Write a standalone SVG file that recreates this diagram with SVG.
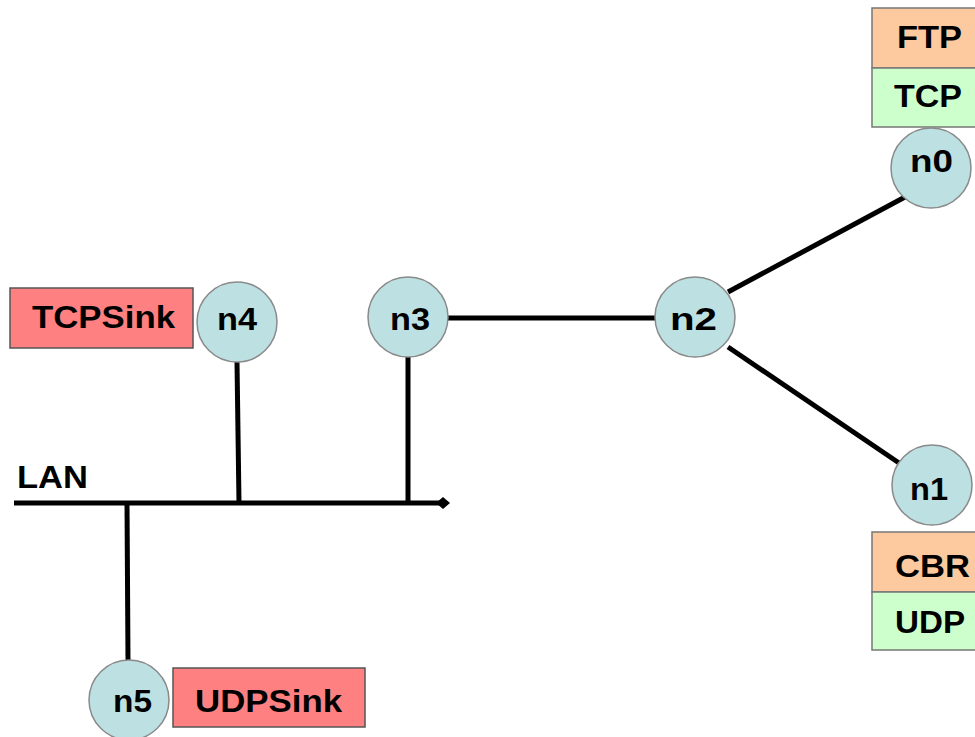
<svg xmlns="http://www.w3.org/2000/svg" width="975" height="737" viewBox="0 0 975 737">
<style>
.node{fill:#bde0e3;stroke:#8a8a8a;stroke-width:1.5}
.lbl{font-family:"Liberation Sans",Arial,sans-serif;font-weight:bold;font-size:31px;fill:#000}
.link{stroke:#000;stroke-width:5;fill:none}
.red{fill:#ff8080;stroke:#555;stroke-width:1.5}
.org{fill:#fdc99f;stroke:#777;stroke-width:1.5}
.grn{fill:#ccffcc;stroke:#777;stroke-width:1.5}
</style>
<rect width="975" height="737" fill="#fff"/>
<g id="connectors">
<line class="link" x1="448" y1="318" x2="655" y2="318"/>
<line class="link" x1="728" y1="292" x2="905" y2="197"/>
<line class="link" x1="728" y1="347" x2="902" y2="465"/>
<line class="link" x1="14" y1="503" x2="441" y2="503"/>
<polygon points="436,503 443,497 450,503 443,509" fill="#000"/>
<line class="link" x1="127" y1="503" x2="128" y2="660"/>
<line class="link" x1="237" y1="362" x2="239" y2="503"/>
<line class="link" x1="408" y1="357" x2="408" y2="503"/>
<text class="lbl" x="17" y="488" textLength="71" lengthAdjust="spacingAndGlyphs">LAN</text>
</g>
<g id="ftp-tcp">
<rect class="org" x="872" y="8" width="106" height="60"/>
<rect class="grn" x="872" y="68" width="106" height="59"/>
<text class="lbl" x="897" y="48" textLength="65" lengthAdjust="spacingAndGlyphs">FTP</text>
<text class="lbl" x="894" y="107" textLength="68" lengthAdjust="spacingAndGlyphs">TCP</text>
</g>
<g id="n0">
<circle class="node" cx="931" cy="168" r="40"/>
<text class="lbl" x="910" y="172" textLength="43" lengthAdjust="spacingAndGlyphs">n0</text>
</g>
<g id="n1">
<circle class="node" cx="932" cy="485" r="40"/>
<text class="lbl" x="910" y="500" textLength="38" lengthAdjust="spacingAndGlyphs">n1</text>
</g>
<g id="cbr-udp">
<rect class="org" x="872" y="532" width="106" height="60"/>
<rect class="grn" x="872" y="592" width="106" height="58"/>
<text class="lbl" x="895" y="577" textLength="75" lengthAdjust="spacingAndGlyphs">CBR</text>
<text class="lbl" x="895" y="633" textLength="70" lengthAdjust="spacingAndGlyphs">UDP</text>
</g>
<g id="n2">
<circle class="node" cx="695" cy="317" r="40"/>
<text class="lbl" x="670" y="330" textLength="47" lengthAdjust="spacingAndGlyphs">n2</text>
</g>
<g id="n3">
<circle class="node" cx="408" cy="317" r="40"/>
<text class="lbl" x="390" y="330" textLength="40" lengthAdjust="spacingAndGlyphs">n3</text>
</g>
<g id="n4">
<circle class="node" cx="237" cy="322" r="40"/>
<text class="lbl" x="217" y="330" textLength="40" lengthAdjust="spacingAndGlyphs">n4</text>
</g>
<g id="tcpsink">
<rect class="red" x="10" y="288" width="183" height="60"/>
<text class="lbl" x="32" y="328" textLength="143" lengthAdjust="spacingAndGlyphs">TCPSink</text>
</g>
<g id="n5">
<circle class="node" cx="129" cy="700" r="40"/>
<text class="lbl" x="113" y="712" textLength="39" lengthAdjust="spacingAndGlyphs">n5</text>
</g>
<g id="udpsink">
<rect class="red" x="173" y="668" width="192" height="59"/>
<text class="lbl" x="195" y="712" textLength="147" lengthAdjust="spacingAndGlyphs">UDPSink</text>
</g>
</svg>
